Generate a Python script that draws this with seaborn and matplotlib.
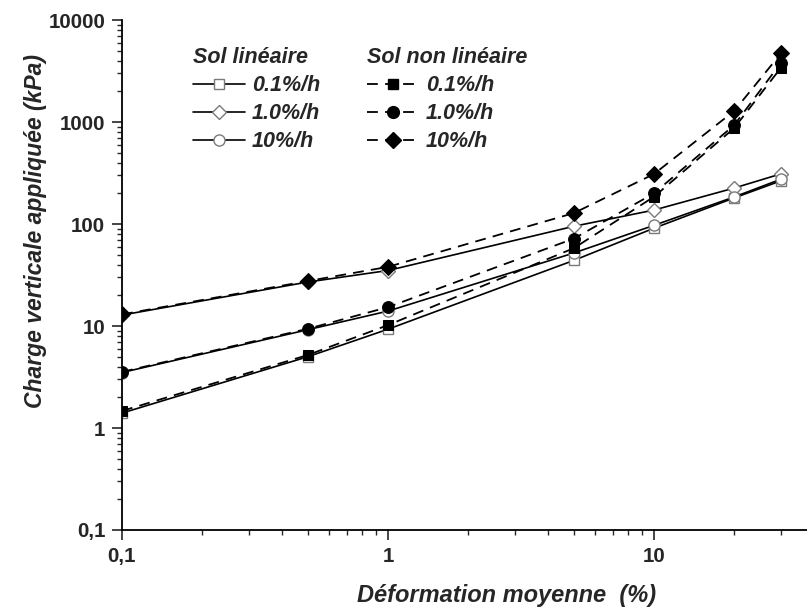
import numpy as np
import pandas as pd
import matplotlib
matplotlib.use("Agg")
import matplotlib.pyplot as plt
from matplotlib.lines import Line2D
from matplotlib.ticker import FixedLocator, LogLocator, NullFormatter
import seaborn as sns

# deformation (%) and applied vertical load (kPa)
deformation = [0.1, 0.5, 1, 5, 10, 20, 30]

lin_01 = [1.4, 5.0, 9.3, 44, 91, 180, 265]      # linear soil, 0.1%/h
lin_10 = [12.8, 27, 35, 95, 137, 225, 310]      # linear soil, 1.0%/h
lin_100 = [3.5, 9.2, 14, 52, 97, 184, 275]      # linear soil, 10%/h
nl_01 = [1.47, 5.2, 10.2, 58, 185, 870, 3400]   # non linear soil, 0.1%/h
nl_10 = [3.55, 9.4, 15.3, 72, 200, 930, 3800]   # non linear soil, 1.0%/h
nl_100 = [13, 27.6, 38, 128, 309, 1280, 4700]   # non linear soil, 10%/h

rate_labels = ["0.1%/h", "1.0%/h", "10%/h"]
x_ticks = [0.1, 1, 10]
x_ticklabels = ["0,1", "1", "10"]
y_ticks = [0.1, 1, 10, 100, 1000, 10000]
y_ticklabels = ["0,1", "1", "10", "100", "1000", "10000"]

sns.set_style("ticks")
plt.rcParams["font.family"] = ["Liberation Sans", "DejaVu Sans"]

fig = plt.figure(figsize=(8.07, 6.14), dpi=100)
ax = fig.add_axes([122 / 807, 1 - 530 / 614, 685 / 807, 510 / 614])

open_style = dict(color="black", linewidth=1.2, markerfacecolor="white",
                  markeredgecolor="#7a7a7a", markeredgewidth=1.0)
fill_style = dict(color="black", linewidth=1.3, markerfacecolor="black",
                  markeredgecolor="black", dashes=(6, 4))

series = [
    (lin_01, "s", 7, open_style),
    (lin_10, "D", 7, open_style),
    (lin_100, "o", 8, open_style),
    (nl_01, "s", 7.5, fill_style),
    (nl_10, "o", 8.5, fill_style),
    (nl_100, "D", 8, fill_style),
]

for vals, mk, ms, style in series:
    df = pd.DataFrame({"x": deformation, "y": vals})
    kw = dict(style)
    dashes = kw.pop("dashes", None)
    sns.lineplot(data=df, x="x", y="y", ax=ax, marker=mk, markersize=ms,
                 legend=False, **kw)
    if dashes is not None:
        ax.lines[-1].set_dashes(dashes)

ax.set_xscale("log")
ax.set_yscale("log")
ax.set_xlim(0.1, 37.6)
ax.set_ylim(0.1, 10000)

ax.xaxis.set_major_locator(FixedLocator(x_ticks))
ax.yaxis.set_major_locator(FixedLocator(y_ticks))
ax.xaxis.set_minor_locator(LogLocator(base=10, subs=np.arange(2, 10)))
ax.yaxis.set_minor_locator(LogLocator(base=10, subs=np.arange(2, 10)))
ax.xaxis.set_minor_formatter(NullFormatter())
ax.yaxis.set_minor_formatter(NullFormatter())
ax.set_xticklabels(x_ticklabels, fontsize=14.8, fontweight="bold")
ax.set_yticklabels(y_ticklabels, fontsize=14.8, fontweight="bold")
ax.tick_params(which="major", length=7, width=1.2, direction="out", pad=5)
ax.tick_params(which="minor", length=3.8, width=1.0, direction="out")

for s in ["top", "right"]:
    ax.spines[s].set_visible(False)
for s in ["left", "bottom"]:
    ax.spines[s].set_linewidth(1.3)
    ax.spines[s].set_color("black")

ax.set_xlabel("Déformation moyenne  (%)", fontsize=17, fontweight="bold",
              fontstyle="italic")
ax.set_ylabel("Charge verticale appliquée (kPa)", fontsize=16.5, fontweight="bold",
              fontstyle="italic")
ax.xaxis.set_label_coords(0.561, -0.129)
ax.yaxis.set_label_coords(-0.127, 0.586)
ax.xaxis.label.set_va("center")
ax.yaxis.label.set_va("center")

leg_font = dict(size=15.5, weight="bold", style="italic")


def make_legend(handles, title, left):
    leg = ax.legend(handles, rate_labels, title=title, loc="upper left",
                    bbox_to_anchor=(left, 1 - 47 / 614), bbox_transform=fig.transFigure,
                    frameon=False, borderaxespad=0, borderpad=0,
                    handlelength=2.4, handletextpad=0.33, labelspacing=0.33,
                    prop=leg_font, title_fontproperties=leg_font, alignment="left")
    return leg


lin_handles = [Line2D([], [], marker=mk, markersize=ms, **open_style)
               for _, mk, ms, _ in series[:3]]
nl_handles = []
for _, mk, ms, style in series[3:]:
    kw = dict(style)
    d = kw.pop("dashes")
    h = Line2D([], [], marker=mk, markersize=ms, **kw)
    h.set_dashes(d)
    nl_handles.append(h)

leg1 = make_legend(lin_handles, "Sol linéaire", 193 / 807)
ax.add_artist(leg1)
make_legend(nl_handles, "Sol non linéaire", 367 / 807)

fig.savefig("out.png", dpi=100)
